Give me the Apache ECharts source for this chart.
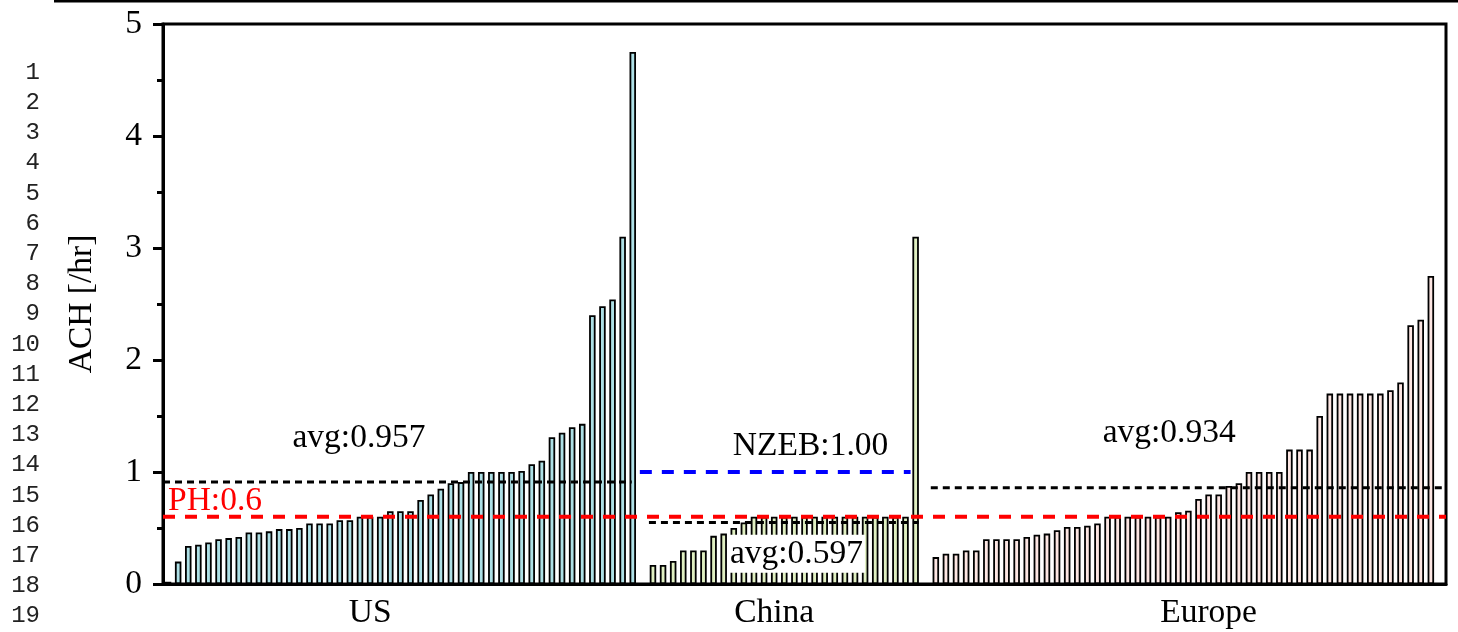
<!DOCTYPE html>
<html>
<head>
<meta charset="utf-8">
<title>ACH</title>
<script src="https://cdn.jsdelivr.net/npm/echarts@6/dist/echarts.min.js"></script>
<style>
  html, body { margin: 0; padding: 0; background: #fff; }
  #chart { width: 1458px; height: 632px; }
</style>
</head>
<body>
<div id="chart"></div>
<script>
"use strict";

// ---- data ----
const groupNames = ["US", "China", "Europe"];
const usVals = [0.02, 0.20, 0.34, 0.35, 0.37, 0.40, 0.41, 0.42, 0.46, 0.46, 0.47, 0.49, 0.49, 0.50,
  0.54, 0.54, 0.54, 0.57, 0.57, 0.60, 0.60, 0.60, 0.65, 0.65, 0.65, 0.75, 0.80, 0.85, 0.90, 0.91,
  1.00, 1.00, 1.00, 1.00, 1.00, 1.01, 1.07, 1.10, 1.31, 1.35, 1.40, 1.43, 2.40, 2.48, 2.54, 3.10, 4.75];
const cnVals = [0.17, 0.17, 0.205, 0.30, 0.30, 0.30, 0.43, 0.45, 0.50, 0.55,
  0.60, 0.60, 0.60, 0.60, 0.60, 0.60, 0.60, 0.60, 0.60, 0.60, 0.60, 0.60, 0.60, 0.60, 0.60, 0.60, 3.10];
const euVals = [0.24, 0.27, 0.27, 0.30, 0.30, 0.40, 0.40, 0.40, 0.40, 0.42, 0.44, 0.45, 0.48, 0.51,
  0.51, 0.52, 0.54, 0.60, 0.60, 0.60, 0.60, 0.60, 0.60, 0.60, 0.64, 0.655, 0.76, 0.80, 0.80, 0.875,
  0.90, 1.00, 1.00, 1.00, 1.00, 1.20, 1.20, 1.20, 1.50, 1.70, 1.70, 1.70, 1.70, 1.70, 1.70, 1.73,
  1.80, 2.31, 2.36, 2.75];

// reference lines: [value, from slot, to slot]
const usAvgLine = [0.91, 0, 46.4];
const cnAvgLine = [0.55, 48.1, 74.8];
const euAvgLine = [0.86, 76.0, 127];
const phLine    = [0.60, 0, 127];
const nzebLine  = [1.00, 47.2, 74.0];

// annotation texts with their anchor (slot, value)
const noteText = ["avg:0.957", "PH:0.6", "NZEB:1.00", "avg:0.597", "avg:0.934"];
const noteX    = [19.4, 5.15, 64.1, 62.7, 99.6];
const noteY    = [1.30, 0.735, 1.232, 0.27, 1.35];

const yTicks = [0, 1, 2, 3, 4, 5];
const lineNums = Array.from({ length: 19 }, (_, i) => String(i + 1));

// ---- layout of the category slots: US | gap | China | gap | Europe | gap ----
const gap = 1;
const cnStart = usVals.length + gap;
const euStart = cnStart + cnVals.length + gap;
const slotCount = euStart + euVals.length + 1;
const labelSlot = [20, 60, 103];

const cats = [];
for (let i = 0; i < slotCount; i++) cats.push(String(i));

function placeInSlots(vals, start) {
  const arr = new Array(slotCount).fill("-");
  vals.forEach((v, i) => { arr[start + i] = v; });
  return arr;
}

const serif = "Liberation Serif";
const bigFont = 33.5;

function barSeries(name, vals, start, fill) {
  return {
    name: name,
    type: "bar",
    stack: "all",
    barWidth: 6.5,
    data: placeInSlots(vals, start),
    itemStyle: { color: fill, borderColor: "#000", borderWidth: 1.8 },
    z: 2
  };
}

function dashLine(name, spec, color, width, dash) {
  return {
    name: name,
    type: "line",
    xAxisIndex: 1,
    yAxisIndex: 0,
    data: [[spec[1], spec[0]], [spec[2], spec[0]]],
    symbol: "none",
    silent: true,
    lineStyle: { color: color, width: width, type: dash },
    z: 5
  };
}

const noteData = noteText.map((t, i) => {
  const item = {
    value: [noteX[i], noteY[i]],
    label: { formatter: t }
  };
  if (t.indexOf("PH") === 0) item.label.color = "#ff0000";
  if (i === 3) {
    item.label.backgroundColor = "#fff";
    item.label.padding = [2, 2, 2, 2];
  }
  return item;
});

// ---- graphic: page rule + line numbers ----
const graphics = [{
  type: "line",
  shape: { x1: 54, y1: 1, x2: 1458, y2: 1 },
  style: { stroke: "#000", lineWidth: 3 },
  silent: true
}];
lineNums.forEach((n, i) => {
  graphics.push({
    type: "text",
    x: 40,
    y: 72.5 + i * 30.2,
    silent: true,
    style: {
      text: n,
      align: "right",
      verticalAlign: "middle",
      fontFamily: "Liberation Mono",
      fontSize: 24,
      fill: "#222"
    }
  });
});

const chart = echarts.init(document.getElementById("chart"), null, { renderer: "canvas" });

const option = {
  backgroundColor: "#fff",
  animation: false,
  grid: {
    left: 163, right: 12, top: 24, bottom: 48,
    show: true, borderColor: "#000", borderWidth: 3, backgroundColor: "transparent"
  },
  xAxis: [
    {
      type: "category",
      data: cats,
      boundaryGap: true,
      axisLine: { lineStyle: { color: "#000", width: 3 } },
      axisTick: { show: false },
      axisLabel: {
        interval: 0,
        margin: 12,
        fontFamily: serif,
        fontSize: bigFont,
        color: "#000",
        formatter: (v, idx) => {
          const k = labelSlot.indexOf(idx);
          return k >= 0 ? groupNames[k] : "";
        }
      },
      splitLine: { show: false }
    },
    {
      type: "value",
      min: 0,
      max: slotCount,
      show: false
    }
  ],
  yAxis: {
    type: "value",
    min: yTicks[0],
    max: yTicks[yTicks.length - 1],
    interval: 1,
    name: "ACH [/hr]",
    nameLocation: "middle",
    nameGap: 64,
    nameTextStyle: { fontFamily: serif, fontSize: bigFont, color: "#000" },
    axisLine: { show: true, lineStyle: { color: "#000", width: 3 } },
    axisTick: { show: true, inside: false, length: 10, lineStyle: { color: "#000", width: 3 } },
    minorTick: { show: true, splitNumber: 2, length: 6, lineStyle: { color: "#000", width: 3 } },
    axisLabel: { margin: 21, fontFamily: serif, fontSize: bigFont, color: "#000" },
    splitLine: { show: false }
  },
  series: [
    barSeries(groupNames[0], usVals, 0, "#aee0e6"),
    barSeries(groupNames[1], cnVals, cnStart, "#e0f0c2"),
    barSeries(groupNames[2], euVals, euStart, "#fde6e3"),
    dashLine("US avg", usAvgLine, "#000", 3, [7, 5]),
    dashLine("China avg", cnAvgLine, "#000", 3, [7, 5]),
    dashLine("Europe avg", euAvgLine, "#000", 3, [7, 5]),
    dashLine("PH", phLine, "#ff0000", 4, [12, 10]),
    dashLine("NZEB", nzebLine, "#0000ff", 4, [12, 10]),
    {
      name: "notes",
      type: "scatter",
      xAxisIndex: 1,
      yAxisIndex: 0,
      symbolSize: 0,
      silent: true,
      data: noteData,
      itemStyle: { opacity: 1 },
      label: {
        show: true,
        position: "inside",
        fontFamily: serif,
        fontSize: bigFont,
        color: "#000"
      },
      z: 6
    }
  ],
  graphic: graphics
};

chart.setOption(option);
window.addEventListener("resize", () => chart.resize());
</script>
</body>
</html>
